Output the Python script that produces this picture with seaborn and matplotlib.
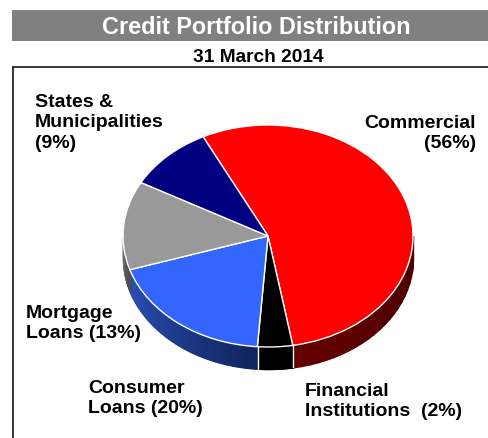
#Importing packages
import numpy as np
import matplotlib
matplotlib.use('Agg')
import matplotlib.pyplot as plt
import seaborn as sns
from matplotlib.lines import Line2D
from matplotlib.patches import Rectangle

#Wedge sizes (the printed labels are rounded differently)
categories = ['Commercial', 'Financial Institutions', 'Consumer Loans', 'Mortgage Loans', 'States & Municipalities']
shares = [54.6, 3.9, 18.9, 12.9, 9.6]
top_colors = ['#ff0000', '#000000', '#3366ff', '#999999', '#000080']
#side colours go from left to right of each wedge as seen from the front
side_left = ['#640000', '#000000', '#2a4fb8', '#7a7a7a', '#000050']
side_right = ['#4a0000', '#000000', '#12245c', '#4c4c4c', '#000050']
labels = ['Commercial\n(56%)', 'Financial\nInstitutions  (2%)', 'Consumer\nLoans (20%)', 'Mortgage\nLoans (13%)', 'States &\nMunicipalities\n(9%)']

title = 'Credit Portfolio Distribution'
subtitle = '31 March 2014'

W, H = 489, 439
CX, CY, RX, RY = 268, 237, 145, 111
DEPTH = 22 / RY
START = 116.6

sns.set_theme(style='white')
plt.rcParams['font.family'] = ['Liberation Sans', 'DejaVu Sans']

fig = plt.figure(figsize=(W / 100, H / 100), dpi=100)
ax = fig.add_axes([0, 0, 1, 1])

def fx(x):
    return x / W

def fy(y):
    return 1 - y / H

#top face
ax.pie(shares, colors=top_colors, startangle=START, counterclock=False,
       wedgeprops={'edgecolor': 'white', 'linewidth': 1.0})
for p in ax.patches:
    p.set_zorder(5)

#side of the pie, strips going around the front half
stops = START - np.cumsum([0] + shares) * 3.6
for i in range(len(shares)):
    theta = np.linspace(np.radians(stops[i]), np.radians(stops[i + 1]), 60)
    theta = theta[np.sin(theta) <= 0]
    if len(theta) < 2:
        continue
    xs = np.cos(theta)
    order = np.argsort(xs)
    xs, ys = xs[order], np.sin(theta)[order]
    pal = sns.blend_palette([side_left[i], side_right[i]], len(xs) - 1)
    for j in range(len(xs) - 1):
        ax.fill_between(xs[j:j + 2], ys[j:j + 2], ys[j:j + 2] - DEPTH, color=pal[j], lw=1.0, zorder=2)

#white seams where the wedges meet on the side
for s in stops[:-1]:
    t = np.radians(s)
    if np.sin(t) < 0 and np.cos(t) > -0.9:
        ax.plot([np.cos(t)] * 2, [np.sin(t), np.sin(t) - DEPTH], color='white', lw=1.0, zorder=3)

#one data unit is RX pixels across and RY pixels up
ax.set_aspect('auto')
ax.set_xlim(-CX / RX, (W - CX) / RX)
ax.set_ylim((CY - H) / RY, CY / RY)
ax.set_axis_off()

#header bar and chart frame
fig.add_artist(Rectangle((fx(12), fy(42)), fx(W - 12), 31 / H, transform=fig.transFigure, color='#808080', lw=0))
fig.add_artist(Line2D([fx(13), fx(13)], [0, fy(67.5)], color='black', lw=1.1))
fig.add_artist(Line2D([fx(13), 1], [fy(67.5), fy(67.5)], color='black', lw=1.1))

fig.text(fx(256.5), fy(27), title, color='white', fontsize=16.9, fontweight='bold', ha='center', va='center')
fig.text(fx(258), fy(57), subtitle, color='black', fontsize=13.8, fontweight='bold', ha='center', va='center')

label_x = [476, 305, 88, 26, 35]
label_y = [115, 383, 380, 305, 94]
label_ha = ['right', 'left', 'left', 'left', 'left']
for text, x, y, ha in zip(labels, label_x, label_y, label_ha):
    fig.text(fx(x), fy(y), text, color='black', fontsize=14.0, fontweight='bold', ha=ha, va='top', linespacing=1.26)

fig.savefig('out.png', dpi=100)
